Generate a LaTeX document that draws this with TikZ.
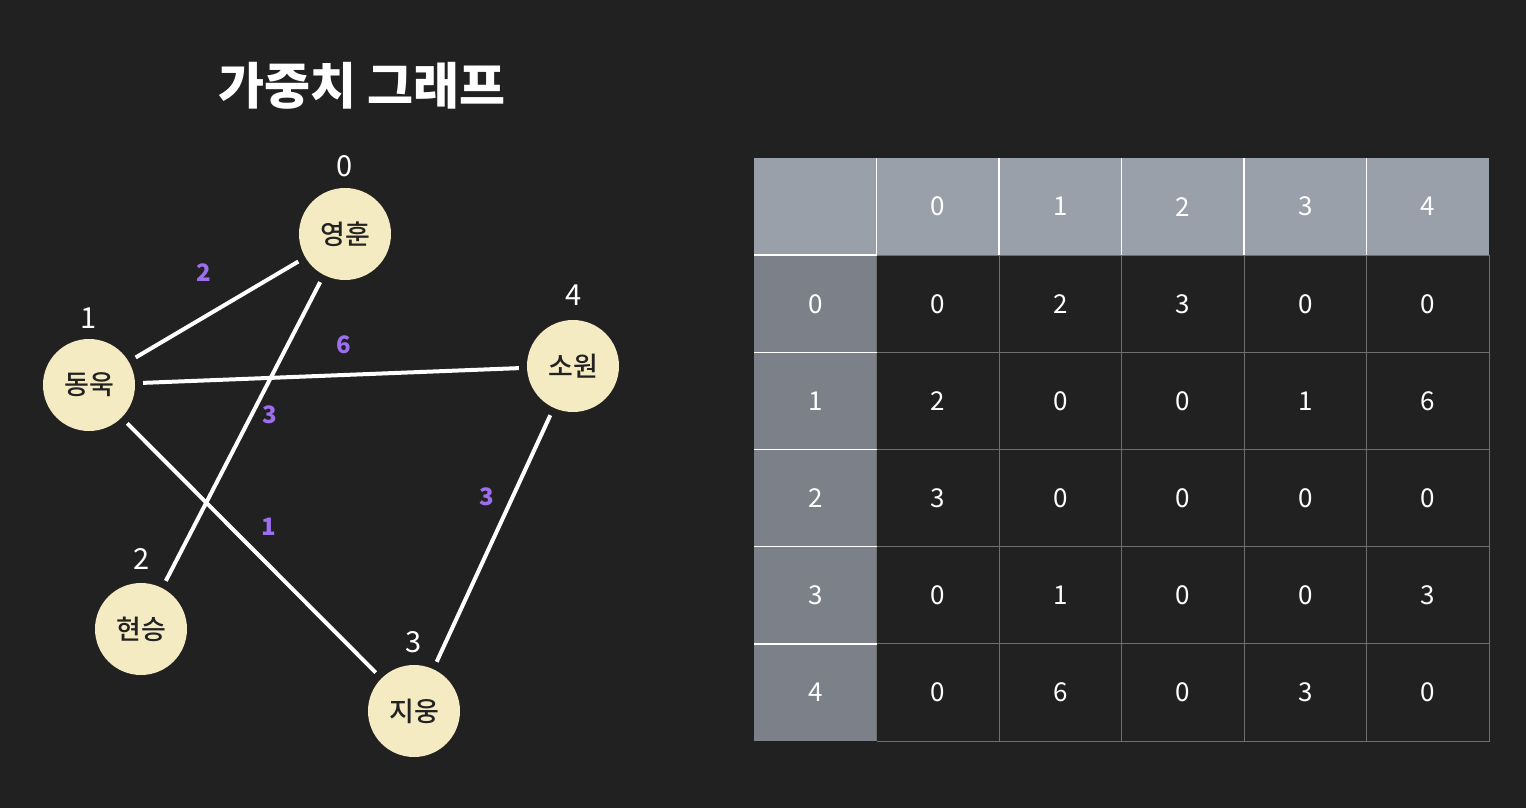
\documentclass[tikz,border=0pt]{standalone}
\usepackage{fontspec}
\setmainfont{Noto Sans CJK KR}
\newfontfamily\krmed{Noto Sans CJK KR Medium}
\newfontfamily\krblack{Noto Sans CJK KR Black}
\definecolor{bg}{HTML}{212121}
\definecolor{cream}{HTML}{F5EBC3}
\definecolor{wt}{HTML}{9B6FEE}
\definecolor{hdr}{HTML}{9AA0AA}
\definecolor{hcol}{HTML}{7C8089}
\definecolor{grid}{HTML}{6E6E6E}
\definecolor{txt}{HTML}{222222}
\tikzset{
  vtx/.style={circle,fill=cream,minimum size=92pt,inner sep=0pt,text=txt,font=\krmed\fontsize{27}{27}\selectfont},
  idx/.style={text=white,font=\fontsize{29}{29}\selectfont},
  wlab/.style={text=wt,font=\bfseries\fontsize{24}{24}\selectfont},
  edge/.style={draw=white,line width=4pt,shorten <=8pt,shorten >=8pt},
  cell/.style={text=white,font=\fontsize{26}{26}\selectfont},
}
\begin{document}
\begin{tikzpicture}[x=1pt,y=-1pt]
\fill[bg] (0,0) rectangle (1526,808);
\useasboundingbox (0,0) rectangle (1526,808);
% title
\node[text=white,font=\krblack\fontsize{50}{50}\selectfont] (title) at (362,86) {가중치 그래프};
% vertices
\node[vtx] (v0) at (345,234) {영훈};
\node[vtx] (v1) at (89,385) {동욱};
\node[vtx] (v2) at (141,629) {현승};
\node[vtx] (v3) at (414,711) {지웅};
\node[vtx] (v4) at (573,366) {소원};
\node[idx] (i0) at (345,166) {0};
\node[idx] (i1) at (89,318) {1};
\node[idx] (i2) at (142,559) {2};
\node[idx] (i3) at (414,642) {3};
\node[idx] (i4) at (574,295) {4};
% edges
\path[edge] (v1) -- (v0);
\path[edge] (v0) -- (v2);
\path[edge] (v1) -- (v4);
\path[edge] (v1) -- (v3);
\path[edge] (v4) -- (v3);
% weights
\node[wlab] (w01) at (204,273) {2};
\node[wlab] (w14) at (344,345) {6};
\node[wlab] (w02) at (270,415) {3};
\node[wlab] (w13) at (269,527) {1};
\node[wlab] (w43) at (487,497) {3};
% table
\def\cw{122.5}\def\rh{97.17}
\fill[hdr] (754,158) rectangle (1489,255);
\fill[hcol] (754,255) rectangle (877,741);
\foreach \i in {1,...,5} {
  \draw[grid,line width=1pt] ({754+\i*\cw},255) -- ({754+\i*\cw},741);
  \draw[grid,line width=1pt] (877,{158+\i*\rh}) -- (1489,{158+\i*\rh});
  \draw[white,line width=1.5pt] ({754+\i*\cw},158) -- ({754+\i*\cw},255);
  \draw[white,line width=1.5pt] (754,{158+\i*\rh}) -- (877,{158+\i*\rh});
}
\draw[grid,line width=1pt] (1489,255) -- (1489,741) -- (877,741);
\foreach \c in {0,...,4} {
  \node[cell] (h\c) at ({754+(\c+1.5)*\cw},{158+0.5*\rh}) {\c};
  \node[cell] (r\c) at ({754+0.5*\cw},{158+(\c+1.5)*\rh}) {\c};
}
\foreach \r/\row in {0/{0,2,3,0,0},1/{2,0,0,1,6},2/{3,0,0,0,0},3/{0,1,0,0,3},4/{0,6,0,3,0}} {
  \foreach \v [count=\c from 0] in \row {
    \node[cell] (m\r\c) at ({754+(\c+1.5)*\cw},{158+(\r+1.5)*\rh}) {\v};
  }
}
\end{tikzpicture}
\end{document}
